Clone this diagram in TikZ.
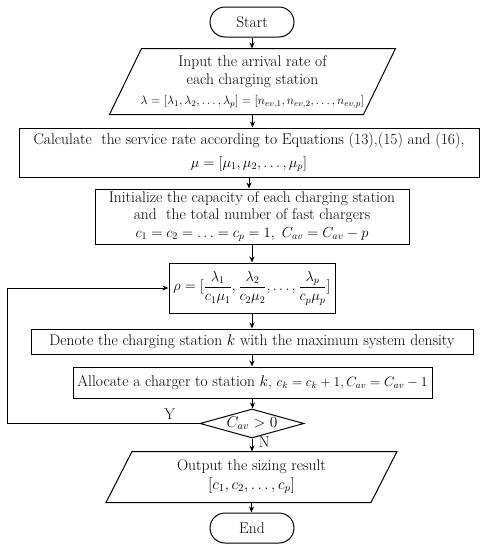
\RequirePackage{fix-cm}
\documentclass[tikz,border=0pt]{standalone}
\usepackage{amsmath,amssymb}
\usepackage{tikz}
\usetikzlibrary{arrows.meta,positioning,shapes.geometric}

\newcommand{\eqsize}[1]{\fontsize{#1}{#1}\selectfont}

\begin{document}
\begin{tikzpicture}[>={Stealth[length=6pt,width=5pt]},x=1pt,y=-1pt,line width=1pt,
  font=\fontsize{15.5}{18.5}\selectfont,
  term/.style={draw,rounded corners=15pt,minimum width=84pt,minimum height=30pt},
  proc/.style={draw,align=center,inner sep=0pt},
  io/.style={align=center,inner sep=0pt,append after command={\pgfextra{
    \draw ([xshift=#1]\tikzlastnode.north west) -- ([xshift=#1]\tikzlastnode.north east)
      -- ([xshift=-#1]\tikzlastnode.south east) -- ([xshift=-#1]\tikzlastnode.south west) -- cycle;}}},
  dec/.style={draw,diamond,aspect=3.6,inner sep=0pt,minimum width=104pt,minimum height=29pt}]
\useasboundingbox (0,0) rectangle (492,550);
\node[term] (start) at (252,22) {Start};
\node[io=16pt,minimum width=253pt,minimum height=65pt] (in) at (252.5,81.5)
  {Input the arrival rate of\\ each charging station\\[1pt]
   {\eqsize{12.2}$\lambda=[\lambda_1,\lambda_2,\ldots,\lambda_p]=[n_{ev,1},n_{ev,2},\ldots,n_{ev,p}]$}};
\node[proc,minimum width=460pt,minimum height=49pt] (calc) at (249,152.5)
  {Calculate\ \ the service rate according to Equations (13),(15) and (16),\\[4pt]
   {\eqsize{14.5}$\mu=[\mu_1,\mu_2,\ldots,\mu_p]$}};
\node[proc,minimum width=314pt,minimum height=55pt] (init) at (252,216.5)
  {Initialize the capacity of each charging station\\[-1.5pt] and\ \ the total number of fast chargers\\[-1pt]
   {\eqsize{14.5}$c_1=c_2=\ldots=c_p=1,\ C_{av}=C_{av}-p$}};
\node[proc,minimum width=166pt,minimum height=50pt] (rho) at (252,288)
  {\eqsize{14.5}$\rho=[\dfrac{\lambda_1}{c_1\mu_1},\dfrac{\lambda_2}{c_2\mu_2},\ldots,\dfrac{\lambda_p}{c_p\mu_p}]$};
\node[proc,minimum width=442pt,minimum height=25pt] (denote) at (252,341.5)
  {Denote the charging station $k$ with the maximum system density};
\node[proc,minimum width=359pt,minimum height=31pt] (alloc) at (252.5,382.5)
  {Allocate a charger to station $k$,\ {\eqsize{13.5}$c_k=c_k+1,C_{av}=C_{av}-1$}};
\node[dec] (cond) at (252,423.5) {$C_{av}>0$};
\node[io=13pt,minimum width=264pt,minimum height=50pt] (out) at (251.5,477)
  {Output the sizing result\\ $[c_1,c_2,\ldots,c_p]$};
\node[term] (end) at (252,528) {End};
\coordinate (back) at (7,423.5);
% main flow
\foreach \a/\b in {start/in,in/calc,calc/init,init/rho,rho/denote,denote/alloc,alloc/cond,out/end}
  \draw[->] (\a.south) -- (\a.south |- \b.north);
\draw[->] (cond.south) -- node[right=3pt,pos=0.3]{N} (cond.south |- out.north);
% loop back
\draw[->] (cond.west) -- node[above,pos=0.155]{Y} (back) |- (rho.west);
\end{tikzpicture}
\end{document}
